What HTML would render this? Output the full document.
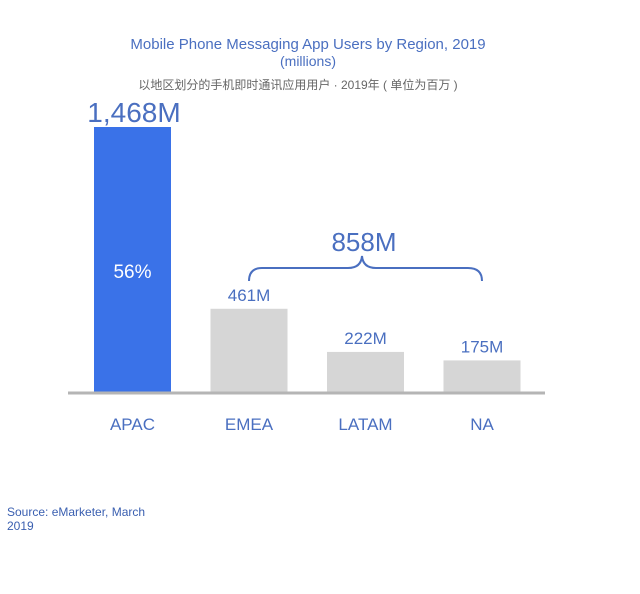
<!DOCTYPE html>
<html><head><meta charset="utf-8"><style>
body{margin:0;background:#fff;width:640px;height:589px;overflow:hidden}
svg text{font-family:"Comic Sans MS","Liberation Sans",sans-serif}
</style></head><body>
<svg width="640" height="589">
<text x="308" y="49" text-anchor="middle" font-size="15" fill="#4a6fc0">Mobile Phone Messaging App Users by Region, 2019</text>
<text x="308" y="66" text-anchor="middle" font-size="14" fill="#4a6fc0">(millions)</text>
<text x="298" y="89" text-anchor="middle" font-size="12" fill="#666" style="font-family:'Liberation Sans','Noto Sans CJK SC',sans-serif">以地区划分的手机即时通讯应用用户 · 2019年 ( 单位为百万 )</text>
<g id="bars"></g>
<line x1="68" y1="393" x2="545" y2="393" stroke="#b5b5b5" stroke-width="3"/>
<path d="M249,281 Q249,268 262,268 L348,268 Q361,268 362,256 Q363,268 376,268 L468,268 Q482,268 482,281" fill="none" stroke="#4a6fc0" stroke-width="2"/>
<text x="364" y="251" text-anchor="middle" font-size="26" fill="#4a6fc0">858M</text>
<text x="7" y="516" font-size="12" fill="#3a5fb0">Source: eMarketer, March</text>
<text x="7" y="530" font-size="12" fill="#3a5fb0">2019</text>
</svg>
<script>
const categories=["APAC","EMEA","LATAM","NA"];
const values=[1468,461,222,175];
const valueLabels=["1,468M","461M","222M","175M"];
const shareLabel="56%";
const g=document.getElementById('bars');
const NS="http://www.w3.org/2000/svg";
const base=392, k=265/1468;
const x0=94, step=116.5, bw=77;
function y(v){return base-v*k;}
categories.forEach((c,i)=>{
  const x=x0+i*step, h=values[i]*k;
  const r=document.createElementNS(NS,'rect');
  
  
  r.setAttribute('x',x);r.setAttribute('y',y(values[i]));r.setAttribute('width',bw);r.setAttribute('height',h);
  r.setAttribute('fill',i===0?'#3a72e8':'#d6d6d6');
  g.appendChild(r);
  const t=document.createElementNS(NS,'text');
  
  
  t.setAttribute('x',i===0?x+40:x+bw/2);
  t.setAttribute('y',i===0?y(values[i])-5:y(values[i])-8);
  t.setAttribute('text-anchor','middle');
  t.setAttribute('font-size',i===0?28:17);
  t.setAttribute('fill','#4a6fc0');
  t.textContent=valueLabels[i];
  g.appendChild(t);
  const l=document.createElementNS(NS,'text');
  
  
  l.setAttribute('x',x+bw/2);l.setAttribute('y',430);l.setAttribute('text-anchor','middle');
  l.setAttribute('font-size',17);l.setAttribute('fill','#4a6fc0');
  l.textContent=c;
  g.appendChild(l);
});
const p=document.createElementNS(NS,'text');


p.setAttribute('x',x0+bw/2);p.setAttribute('y',278);p.setAttribute('text-anchor','middle');
p.setAttribute('font-size',19);p.setAttribute('fill','#fff');
p.textContent=shareLabel;
g.appendChild(p);
</script>
</body></html>
